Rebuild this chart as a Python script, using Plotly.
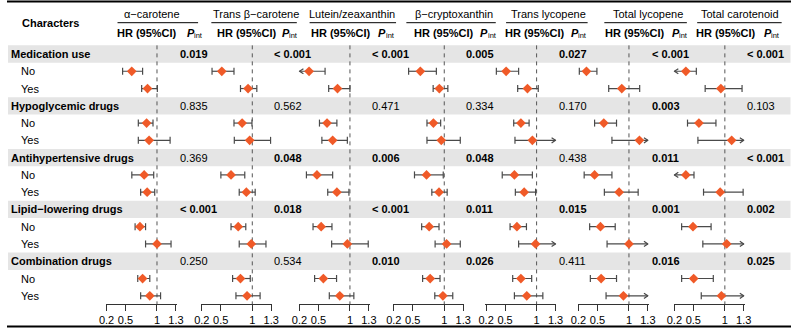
import plotly.graph_objects as go

W, H = 798, 328

# ---------------- data ----------------
categories = ["Medication use", "No", "Yes",
              "Hypoglycemic drugs", "No", "Yes",
              "Antihypertensive drugs", "No", "Yes",
              "Lipid−lowering drugs", "No", "Yes",
              "Combination drugs", "No", "Yes"]
group_rows = [0, 3, 6, 9, 12]
sub_rows = [1, 2, 4, 5, 7, 8, 10, 11, 13, 14]

nutrients = ["α−carotene", "Trans β−carotene", "Lutein/zeaxanthin", "β−cryptoxanthin",
             "Trans lycopene", "Total lycopene", "Total carotenoid"]

# order: Med No, Med Yes, Hypo No, Hypo Yes, Anti No, Anti Yes, Lipid No, Lipid Yes, Comb No, Comb Yes
hr_alpha = [0.60, 0.85, 0.835, 0.875, 0.797, 0.844, 0.73, 1.00, 0.772, 0.886]
lo_alpha = [0.455, 0.757, 0.704, 0.704, 0.601, 0.741, 0.653, 0.819, 0.695, 0.741]
hi_alpha = [0.772, 1.006, 0.937, 1.208, 0.948, 0.964, 0.819, 1.223, 0.886, 1.057]

hr_transbeta = [0.517, 0.933, 0.839, 0.959, 0.663, 0.906, 0.777, 0.984, 0.813, 0.917]
lo_transbeta = [0.362, 0.813, 0.71, 0.715, 0.502, 0.793, 0.663, 0.793, 0.688, 0.741]
hi_transbeta = [0.71, 1.072, 0.995, 1.29, 0.881, 1.046, 0.897, 1.217, 0.968, 1.124]

hr_lutein = [0.352, 0.803, 0.637, 0.726, 0.477, 0.793, 0.544, 0.959, 0.579, 0.839]
lo_lutein = [0.15, 0.663, 0.517, 0.555, 0.31, 0.648, 0.415, 0.71, 0.44, 0.673]
hi_lutein = [0.606, 1.0, 0.793, 0.959, 0.726, 0.984, 0.715, 1.29, 0.788, 1.062]

hr_crypto = [0.621, 0.922, 0.828, 0.953, 0.719, 0.917, 0.761, 1.037, 0.777, 0.979]
lo_crypto = [0.435, 0.824, 0.726, 0.726, 0.528, 0.803, 0.642, 0.855, 0.657, 0.85]
hi_crypto = [0.875, 1.057, 0.943, 1.254, 0.984, 1.046, 0.917, 1.254, 0.933, 1.135]

hr_translyc = [0.517, 0.855, 0.751, 0.933, 0.648, 0.803, 0.688, 0.984, 0.751, 0.844]
lo_translyc = [0.362, 0.70, 0.637, 0.657, 0.455, 0.663, 0.579, 0.715, 0.621, 0.648]
hi_translyc = [0.715, 1.026, 0.881, 1.40, 0.933, 0.984, 0.839, 1.40, 0.922, 1.099]

hr_totlyc = [0.326, 0.886, 0.601, 1.166, 0.455, 0.844, 0.548, 1.0, 0.559, 0.912]
lo_totlyc = [0.213, 0.679, 0.455, 0.73, 0.29, 0.61, 0.377, 0.653, 0.388, 0.637]
hi_totlyc = [0.492, 1.17, 0.803, 1.45, 0.73, 1.146, 0.782, 1.45, 0.803, 1.40]

hr_totcar = [0.382, 0.937, 0.589, 1.108, 0.382, 0.926, 0.495, 1.03, 0.506, 0.946]
lo_totcar = [0.15, 0.688, 0.408, 0.573, 0.15, 0.662, 0.315, 0.651, 0.315, 0.626]
hi_totcar = [0.548, 1.273, 0.859, 1.40, 0.511, 1.29, 0.782, 1.40, 0.817, 1.40]

pint_alpha = ["0.019", "0.835", "0.369", "< 0.001", "0.250"]
pint_transbeta = ["< 0.001", "0.562", "0.048", "0.018", "0.534"]
pint_lutein = ["< 0.001", "0.471", "0.006", "< 0.001", "0.010"]
pint_crypto = ["0.005", "0.334", "0.048", "0.011", "0.026"]
pint_translyc = ["0.027", "0.170", "0.438", "0.015", "0.411"]
pint_totlyc = ["< 0.001", "0.003", "0.011", "0.001", "0.016"]
pint_totcar = ["< 0.001", "0.103", "< 0.001", "0.002", "0.025"]

tick_vals = [0.2, 0.5, 1, 1.3]
tick_text = ["0.2", "0.5", "1", "1.3"]
xlim = [0.2, 1.3]

panels = [
    (hr_alpha, lo_alpha, hi_alpha, pint_alpha),
    (hr_transbeta, lo_transbeta, hi_transbeta, pint_transbeta),
    (hr_lutein, lo_lutein, hi_lutein, pint_lutein),
    (hr_crypto, lo_crypto, hi_crypto, pint_crypto),
    (hr_translyc, lo_translyc, hi_translyc, pint_translyc),
    (hr_totlyc, lo_totlyc, hi_totlyc, pint_totlyc),
    (hr_totcar, lo_totcar, hi_totcar, pint_totcar),
]

# ---------------- layout constants (pixels) ----------------
FONT = "Liberation Sans, Arial, sans-serif"
ROW0, ROWH = 54.0, 17.27
AXIS_Y = 304.0
panel_x02 = [101.3, 198.3, 297.7, 393.7, 487.7, 581.7, 679.3]
PXU = 64.2
pint_x = [176, 272, 371, 467, 562, 656, 753]
title_cx = [148, 253, 351, 455, 551, 652.5, 746]
line_spans = [(112.5, 194.5), (208, 295), (308, 396), (406.5, 497.5),
              (508, 591), (608, 692), (702.5, 788.5)]
hr_head_cx = [142, 244, 340, 444.5, 537, 639.5, 732]
p_head_x = [182.7, 280, 378, 481.7, 574, 676.7, 770]

ORANGE = "#F05A28"
CI_COL = "#4a4a4a"
ARROW_DX = 4.0 / PXU      # arrow head depth (x units)
ARROW_DY = 2.6 / ROWH     # arrow head half-height (row units)


def pxx(p):
    return p / W


def pxy(p):
    return 1 - p / H


fig = go.Figure()
annotations = []
shapes = []

# gray bands for group rows
for r in group_rows:
    shapes.append(dict(type="rect", xref="paper", yref="y", x0=pxx(1), x1=pxx(797.5),
                       y0=r - 0.5, y1=r + 0.5, fillcolor="#e5e5e5", line=dict(width=0),
                       layer="below"))

# borders
shapes.append(dict(type="line", xref="paper", yref="paper", x0=0, x1=1,
                   y0=pxy(1.5), y1=pxy(1.5), line=dict(color="black", width=2)))
shapes.append(dict(type="line", xref="paper", yref="paper", x0=0, x1=1,
                   y0=pxy(326.5), y1=pxy(326.5), line=dict(color="black", width=2)))

# header
annotations.append(dict(text="<b>Characters</b>", xref="paper", yref="paper",
                        x=pxx(13), y=pxy(22.7), xanchor="left", yanchor="middle",
                        showarrow=False, font=dict(size=11, color="black")))

eps = 0.012
for k, (hr, lo, hi, pint) in enumerate(panels):
    xa = "x" if k == 0 else f"x{k + 1}"
    axname = "xaxis" if k == 0 else f"xaxis{k + 1}"
    x0p = panel_x02[k] - eps * PXU
    x1p = panel_x02[k] + (xlim[1] - xlim[0]) * PXU + eps * PXU
    fig.update_layout({axname: dict(
        domain=[pxx(x0p), pxx(x1p)], range=[xlim[0] - eps, xlim[1] + eps],
        anchor="free", position=pxy(AXIS_Y), showline=True, linecolor="#333",
        linewidth=1, ticks="outside", ticklen=6, tickwidth=1, tickcolor="#333",
        tickvals=tick_vals, ticktext=tick_text, showgrid=False, zeroline=False,
        tickfont=dict(size=11, color="black"), fixedrange=True)})

    # reference dashed line
    fig.add_trace(go.Scatter(x=[1, 1], y=[-0.5, (AXIS_Y - ROW0) / ROWH], xaxis=xa, yaxis="y",
                             mode="lines", line=dict(color="#555", width=1, dash="4px,4px"),
                             hoverinfo="skip", showlegend=False))

    xs, ys, cx, cy, axs, ays = [], [], [], [], [], []
    for i, r in enumerate(sub_rows):
        a = max(lo[i], xlim[0])
        b = min(hi[i], xlim[1])
        xs += [a, b, None]
        ys += [r, r, None]
        if lo[i] >= xlim[0]:
            cx.append(lo[i]); cy.append(r)
        else:
            axs += [xlim[0] + ARROW_DX, xlim[0], xlim[0] + ARROW_DX, None]
            ays += [r - ARROW_DY, r, r + ARROW_DY, None]
        if hi[i] <= xlim[1]:
            cx.append(hi[i]); cy.append(r)
        else:
            axs += [xlim[1] - ARROW_DX, xlim[1], xlim[1] - ARROW_DX, None]
            ays += [r - ARROW_DY, r, r + ARROW_DY, None]
    fig.add_trace(go.Scatter(x=xs, y=ys, xaxis=xa, yaxis="y", mode="lines",
                             line=dict(color=CI_COL, width=1.2), hoverinfo="skip",
                             showlegend=False))
    if axs:
        fig.add_trace(go.Scatter(x=axs, y=ays, xaxis=xa, yaxis="y", mode="lines",
                                 line=dict(color=CI_COL, width=1.2), hoverinfo="skip",
                                 showlegend=False))
    fig.add_trace(go.Scatter(x=cx, y=cy, xaxis=xa, yaxis="y", mode="markers",
                             marker=dict(symbol="line-ns", size=5,
                                         line=dict(color=CI_COL, width=1.2)),
                             cliponaxis=False, hoverinfo="skip", showlegend=False))
    fig.add_trace(go.Scatter(x=hr, y=sub_rows, xaxis=xa, yaxis="y", mode="markers",
                             marker=dict(symbol="diamond", size=7.5, color=ORANGE,
                                         line=dict(width=0)),
                             cliponaxis=False, showlegend=False))

    # header texts
    annotations.append(dict(text=nutrients[k], xref="paper", yref="paper", x=pxx(title_cx[k]),
                            y=pxy(14), xanchor="center", yanchor="middle", showarrow=False,
                            font=dict(size=11, color="black")))
    shapes.append(dict(type="line", xref="paper", yref="paper", x0=pxx(line_spans[k][0]),
                       x1=pxx(line_spans[k][1]), y0=pxy(22.7), y1=pxy(22.7),
                       line=dict(color="black", width=1)))
    annotations.append(dict(text="<b>HR (95%CI)</b>", xref="paper", yref="paper",
                            x=pxx(hr_head_cx[k]), y=pxy(33.3), xanchor="center",
                            yanchor="middle", showarrow=False, font=dict(size=11, color="black")))
    annotations.append(dict(text="<b><i>P</i></b>", xref="paper", yref="paper",
                            x=pxx(p_head_x[k] - 2), y=pxy(33.3), xanchor="left",
                            yanchor="middle", showarrow=False, font=dict(size=11, color="black")))
    annotations.append(dict(text="int", xref="paper", yref="paper",
                            x=pxx(p_head_x[k] + 5.5), y=pxy(35.3), xanchor="left",
                            yanchor="middle", showarrow=False, font=dict(size=7.5, color="black")))

    # P interaction values
    for g, r in enumerate(group_rows):
        s = pint[g]
        val = 0.0005 if s.startswith("<") else float(s)
        txt = f"<b>{s}</b>" if val < 0.05 else s
        annotations.append(dict(text=txt, xref="paper", yref="y", x=pxx(pint_x[k] - 2), y=r,
                                xanchor="left", yanchor="middle", showarrow=False,
                                font=dict(size=11, color="black")))

# row labels
for r, name in enumerate(categories):
    if r in group_rows:
        annotations.append(dict(text=f"<b>{name}</b>", xref="paper", yref="y", x=pxx(2), y=r,
                                xanchor="left", yanchor="middle", showarrow=False,
                                font=dict(size=11, color="black")))
    else:
        annotations.append(dict(text=name, xref="paper", yref="y", x=pxx(12), y=r,
                                xanchor="left", yanchor="middle", showarrow=False,
                                font=dict(size=11, color="black")))

fig.update_layout(
    width=W, height=H, margin=dict(l=0, r=0, t=0, b=0),
    paper_bgcolor="white", plot_bgcolor="rgba(0,0,0,0)", showlegend=False,
    font=dict(family=FONT, size=11, color="black"),
    yaxis=dict(domain=[0, 1], range=[(H - ROW0) / ROWH, -ROW0 / ROWH], visible=False,
               fixedrange=True),
    shapes=shapes, annotations=annotations,
)

fig.write_html("out.html", config={"displayModeBar": False},
               post_script="document.body.style.margin='0';document.body.style.padding='0';"
                           "document.body.style.overflow='hidden';")
